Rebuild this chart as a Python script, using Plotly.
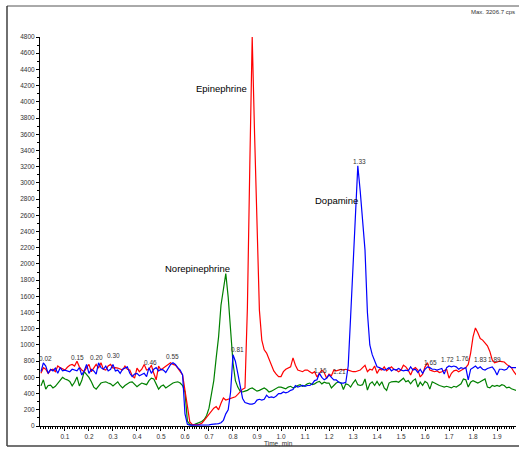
import plotly.graph_objects as go

# ---------------- data (sampled every 0.01 min) ----------------
red_vals = (
    [650, 720, 700, 650, 690, 700, 670, 740, 720, 700] +
    [690, 725, 750, 760, 740, 800, 730, 690, 670, 720] +
    [760, 670, 720, 760, 715, 780, 700, 690, 740, 760] +
    [715, 720, 715, 700, 690, 740, 700, 690, 620, 590] +
    [715, 670, 700, 760, 690, 700, 750, 650, 570, 740] +
    [690, 715, 740, 760, 780, 760, 750, 715, 670, 630] +
    [440, 240, 50, 20, 15, 15, 20, 35, 70, 110] +
    [150, 180, 220, 240, 200, 280, 345, 320, 330, 345] +
    [350, 360, 390, 420, 455, 470, 1455, 3210, 4800, 3590] +
    [2480, 1430, 1060, 940, 900, 820, 740, 680, 640, 610] +
    [610, 670, 700, 715, 730, 840, 750, 690, 680, 670] +
    [690, 690, 670, 650, 670, 605, 650, 690, 660, 590] +
    [640, 620, 690, 680, 690, 700, 690, 700, 690, 680] +
    [670, 670, 680, 690, 720, 750, 670, 700, 690, 740] +
    [650, 700, 690, 730, 680, 700, 730, 700, 690, 670] +
    [690, 750, 730, 690, 630, 700, 720, 690, 605, 640] +
    [730, 780, 690, 680, 670, 680, 660, 670, 690, 700] +
    [590, 650, 680, 690, 670, 690, 700, 720, 760, 900] +
    [1100, 1210, 1150, 1080, 1060, 1030, 990, 920, 815, 780] +
    [790, 800, 795, 790, 760, 740, 720, 670, 630]
)

blue_vals = (
    [670, 780, 740, 650, 700, 680, 715, 650, 720, 680] +
    [690, 680, 670, 700, 690, 680, 720, 630, 680, 760] +
    [650, 700, 680, 640, 780, 720, 700, 740, 680, 700] +
    [760, 680, 690, 650, 700, 720, 730, 650, 610, 640] +
    [650, 620, 640, 650, 610, 720, 650, 700, 720, 680] +
    [700, 690, 660, 710, 760, 780, 760, 720, 690, 630] +
    [150, 20, 10, 10, 10, 10, 10, 10, 10, 15] +
    [15, 20, 20, 25, 30, 40, 70, 150, 200, 420] +
    [880, 800, 650, 480, 340, 290, 280, 270, 270, 280] +
    [320, 330, 320, 330, 380, 350, 360, 350, 370, 400] +
    [400, 420, 410, 420, 440, 450, 500, 480, 490, 500] +
    [490, 500, 500, 520, 560, 570, 650, 600, 570, 590] +
    [630, 600, 570, 570, 540, 530, 530, 540, 740, 1345] +
    [1950, 2555, 3210, 2900, 2520, 2170, 1400, 1000, 880, 800] +
    [730, 720, 700, 690, 700, 720, 680, 700, 690, 710] +
    [690, 680, 690, 680, 730, 690, 700, 660, 700, 650] +
    [700, 730, 720, 700, 700, 690, 700, 710, 640, 720] +
    [740, 730, 740, 730, 700, 720, 710, 720, 570, 700] +
    [720, 740, 710, 730, 700, 690, 710, 720, 730, 690] +
    [630, 700, 700, 690, 700, 740, 720, 720, 720]
)

green_vals = (
    [495, 570, 455, 500, 505, 470, 490, 530, 560, 600] +
    [580, 570, 550, 495, 540, 605, 495, 560, 670, 640] +
    [600, 545, 480, 455, 500, 530, 540, 545, 530, 520] +
    [495, 520, 545, 500, 470, 500, 520, 540, 545, 520] +
    [485, 510, 530, 520, 510, 560, 590, 580, 520, 455] +
    [490, 505, 470, 490, 520, 530, 540, 545, 530, 500] +
    [420, 60, 20, 15, 20, 30, 45, 55, 80, 130] +
    [220, 370, 560, 840, 1100, 1490, 1700, 1880, 1590, 1130] +
    [780, 560, 480, 430, 420, 430, 440, 460, 470, 450] +
    [430, 440, 460, 470, 450, 420, 430, 450, 470, 480] +
    [480, 470, 460, 480, 490, 470, 480, 500, 510, 490] +
    [500, 520, 530, 510, 520, 540, 550, 520, 540, 530] +
    [530, 470, 500, 530, 545, 530, 450, 520, 510, 480] +
    [530, 570, 510, 500, 510, 580, 444, 520, 545, 500] +
    [550, 500, 545, 470, 440, 530, 545, 545, 550, 540] +
    [560, 590, 545, 560, 520, 560, 580, 480, 540, 500] +
    [550, 530, 455, 545, 530, 510, 500, 490, 480, 490] +
    [480, 470, 490, 480, 500, 520, 580, 570, 480, 540] +
    [560, 540, 530, 545, 560, 580, 480, 470, 500, 490] +
    [500, 490, 510, 500, 470, 480, 460, 450, 440]
)

# compound labels (text, time, intensity)
compound_names = ["Epinephrine", "Dopamine", "Norepinephrine"]
compound_t = [0.754, 1.233, 0.652]
compound_v = [4160, 2784, 1938]

# retention-time labels
rt_labels = ["0.02", "0.15", "0.20", "0.30", "0.46", "0.55", "0.81", "1.16",
             "1.21", "1.33", "1.65", "1.72", "1.76", "1.83", "1.89"]
rt_t = [0.017, 0.154, 0.233, 0.304, 0.458, 0.55, 0.817, 1.1625,
        1.242, 1.325, 1.621, 1.692, 1.758, 1.833, 1.8875]
rt_v = [827, 840, 840, 864, 778, 852, 950, 679,
        667, 3259, 778, 815, 827, 815, 815]

y_tick_vals = list(range(0, 4801, 200))
y_tick_text = [str(v) for v in y_tick_vals]
x_tick_vals = [round(0.1 * i, 1) for i in range(1, 20)]
x_tick_text = ["%.1f" % v for v in x_tick_vals]

max_label = "Max. 3206.7 cps"
x_title = "Time, min"

# ---------------- figure ----------------
def times(vals):
    return [round(i * 0.01, 2) for i in range(len(vals))]

FONT = "Liberation Sans, Arial, sans-serif"

fig = go.Figure()
for vals, col in [(green_vals, "#008000"), (red_vals, "#ff0000"), (blue_vals, "#0000ff")]:
    fig.add_trace(go.Scatter(x=times(vals), y=vals, mode="lines",
                             line=dict(color=col, width=1.2), showlegend=False,
                             hoverinfo="skip"))

annotations = []
for name, t, v in zip(compound_names, compound_t, compound_v):
    annotations.append(dict(x=t, y=v, xref="x", yref="y", text=name, showarrow=False,
                            font=dict(family=FONT, size=9.5, color="#000"),
                            xanchor="center", yanchor="middle"))
for lab, t, v in zip(rt_labels, rt_t, rt_v):
    annotations.append(dict(x=t, y=v, xref="x", yref="y", text=lab, showarrow=False,
                            font=dict(family=FONT, size=6.5, color="#333"),
                            xanchor="center", yanchor="middle"))

W, H = 519, 449
L, R, T, B = 40, 3, 37, 23
pw, ph = W - L - R, H - T - B

def px(x):
    return (x - L) / pw

def py(y):
    return (H - B - y) / ph

annotations.append(dict(x=px(517), y=py(12), xref="paper", yref="paper", text=max_label,
                        showarrow=False, xanchor="right", yanchor="middle",
                        font=dict(family=FONT, size=6, color="#333")))
annotations.append(dict(x=px(278), y=py(443), xref="paper", yref="paper", text=x_title,
                        showarrow=False, xanchor="center", yanchor="middle",
                        font=dict(family=FONT, size=6.5, color="#333")))

shapes = [
    dict(type="line", xref="paper", yref="paper", x0=px(7), x1=px(519), y0=py(6), y1=py(6),
         line=dict(color="#555", width=1)),
    dict(type="line", xref="paper", yref="paper", x0=px(7), x1=px(7), y0=py(6), y1=py(446),
         line=dict(color="#222", width=1.3)),
    dict(type="line", xref="paper", yref="paper", x0=px(7), x1=px(519), y0=py(446), y1=py(446),
         line=dict(color="#444", width=1.3)),
]

fig.update_layout(
    width=W, height=H,
    margin=dict(l=L, r=R, t=T, b=B, pad=0),
    paper_bgcolor="white", plot_bgcolor="white",
    annotations=annotations, shapes=shapes,
    xaxis=dict(range=[-0.004, 1.979], showgrid=False, zeroline=False,
               showline=True, linecolor="#000", linewidth=1,
               tickmode="array", tickvals=x_tick_vals, ticktext=x_tick_text,
               ticks="outside", ticklen=4, tickcolor="#000", tickwidth=1,
               ticklabelstandoff=0,
               tickfont=dict(family=FONT, size=6.5, color="#333"),
               minor=dict(dtick=0.01, tick0=0, ticks="outside", ticklen=2,
                          tickcolor="#000", showgrid=False)),
    yaxis=dict(range=[0, 4800], showgrid=False, zeroline=False,
               showline=True, linecolor="#000", linewidth=1,
               tickmode="array", tickvals=y_tick_vals, ticktext=y_tick_text,
               ticks="outside", ticklen=3, tickcolor="#000", tickwidth=1,
               ticklabelstandoff=0,
               tickfont=dict(family=FONT, size=6.5, color="#333"),
               minor=dict(dtick=100, tick0=0, ticks="outside", ticklen=2,
                          tickcolor="#000", showgrid=False)),
)

fig.write_html("out.html")
